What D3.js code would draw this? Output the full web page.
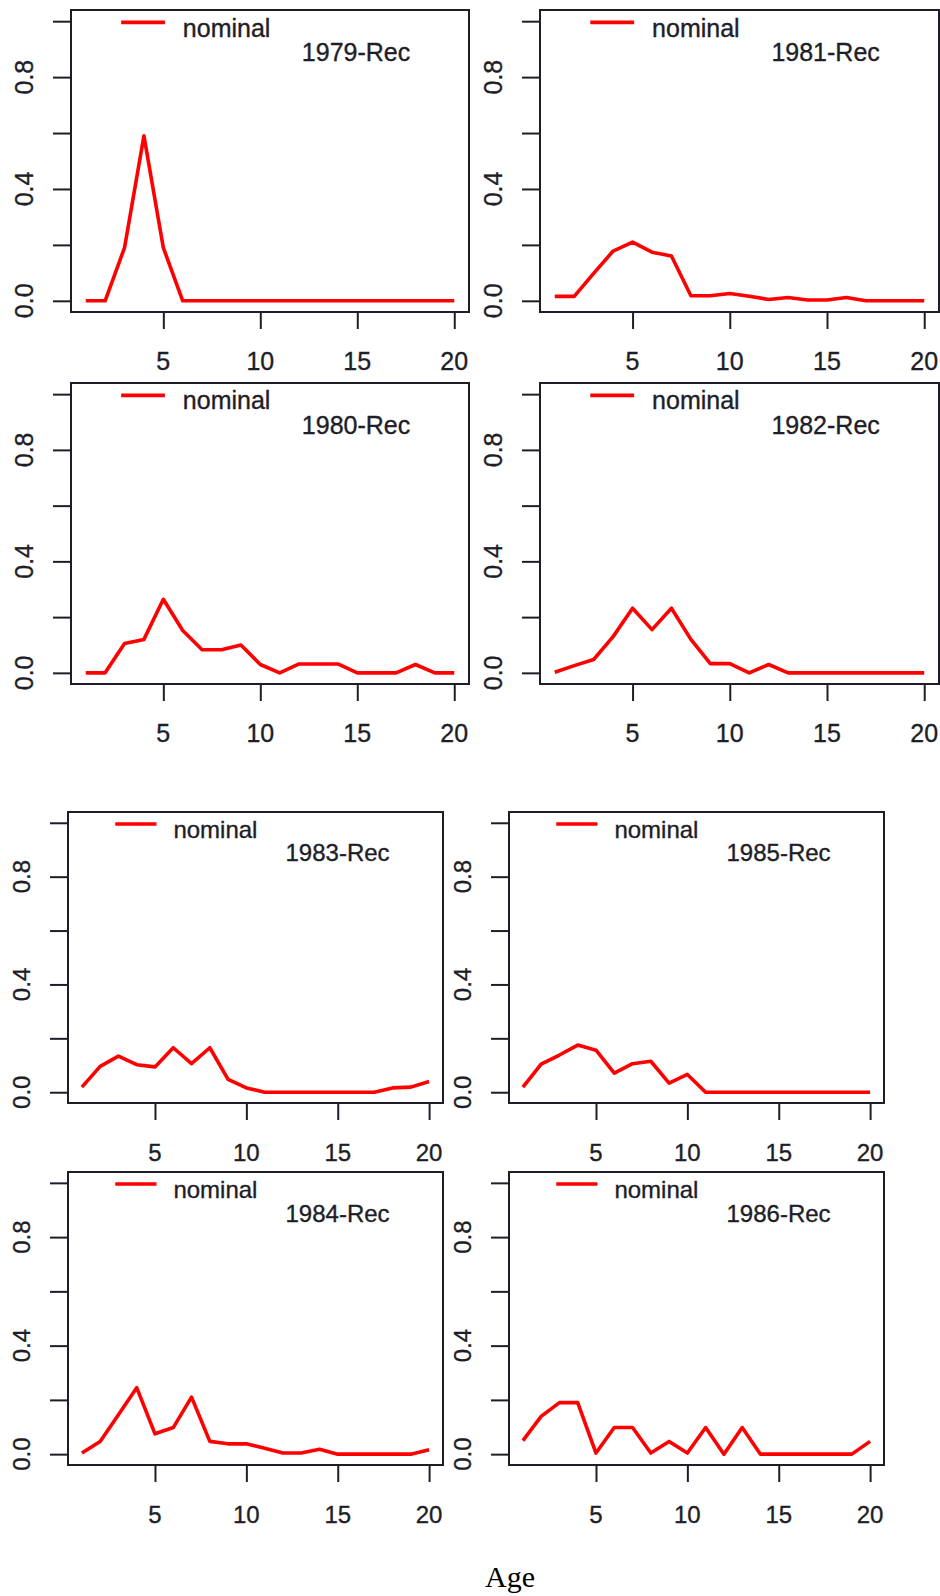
<!DOCTYPE html>
<html>
<head>
<meta charset="utf-8">
<script src="https://cdn.jsdelivr.net/npm/d3@7"></script>
<style>
  body { margin: 0; background: #fff; }
  svg { display: block; }
  .lab { stroke: #1e1e28; stroke-width: 0.35px; }
</style>
</head>
<body>
<svg id="base" width="940" height="1596"></svg>
<script>
// ages on the x axis
const ages = d3.range(1, 21);

// recruitment proportion at age, one series per year
const rec1979 = [0, 0, 0.19, 0.59, 0.19, 0, 0, 0, 0, 0, 0, 0, 0, 0, 0, 0, 0, 0, 0, 0];
const rec1981 = [0.016, 0.016, 0.098, 0.178, 0.21, 0.174, 0.16, 0.018, 0.018, 0.026, 0.016, 0.005, 0.012, 0.003, 0.003, 0.012, 0, 0, 0, 0];
const rec1980 = [0, 0, 0.105, 0.12, 0.264, 0.152, 0.083, 0.083, 0.1, 0.03, 0, 0.032, 0.032, 0.032, 0, 0, 0, 0.03, 0, 0];
const rec1982 = [0.002, 0.026, 0.048, 0.13, 0.232, 0.155, 0.232, 0.12, 0.033, 0.033, 0, 0.03, 0, 0, 0, 0, 0, 0, 0, 0];
const rec1983 = [0.019, 0.096, 0.134, 0.102, 0.094, 0.165, 0.106, 0.165, 0.048, 0.016, 0, 0, 0, 0, 0, 0, 0, 0.016, 0.019, 0.04];
const rec1985 = [0.019, 0.104, 0.138, 0.175, 0.156, 0.071, 0.106, 0.115, 0.034, 0.066, 0, 0, 0, 0, 0, 0, 0, 0, 0, 0];
const rec1984 = [0.004, 0.047, 0.145, 0.245, 0.075, 0.098, 0.21, 0.047, 0.038, 0.038, 0.022, 0.004, 0.004, 0.018, 0, 0, 0, 0, 0, 0.016];
const rec1986 = [0.05, 0.139, 0.19, 0.19, 0.004, 0.098, 0.098, 0.004, 0.047, 0.004, 0.098, 0, 0.098, 0, 0, 0, 0, 0, 0, 0.047];

const titles = ["1979-Rec", "1981-Rec", "1980-Rec", "1982-Rec", "1983-Rec", "1985-Rec", "1984-Rec", "1986-Rec"];
const series = [rec1979, rec1981, rec1980, rec1982, rec1983, rec1985, rec1984, rec1986];
const legendLabel = "nominal";
const xLabel = "Age";

const xTicks = [5, 10, 15, 20];
const yTicks = [0, 0.2, 0.4, 0.6, 0.8, 1.0];
const yLabels = ["0.0", "", "0.4", "", "0.8", ""];

// panel boxes (two stacked figures, the lower one slightly smaller)
const boxes = [
    { l: 71, r: 469, t: 10, b: 312, fs: 25 },
    { l: 540, r: 939, t: 10, b: 312, fs: 25 },
    { l: 71, r: 469, t: 383, b: 684, fs: 25 },
    { l: 540, r: 939, t: 383, b: 684, fs: 25 },
    { l: 68, r: 443, t: 812, b: 1103, fs: 24 },
    { l: 509, r: 884, t: 812, b: 1103, fs: 24 },
    { l: 68, r: 443, t: 1172, b: 1465, fs: 24 },
    { l: 509, r: 884, t: 1172, b: 1465, fs: 24 }
];

const base = d3.select("#base");
const font = "'Liberation Sans', Arial, sans-serif";
const ink = "#1e1e28";

boxes.forEach((bx, i) => {
    const w = bx.r - bx.l;
    const h = bx.b - bx.t;
    // R style 4% padding around the data range
    const x = d3.scaleLinear().domain([1 - 0.04 * 19, 20 + 0.04 * 19]).range([0, w]);
    const y = d3.scaleLinear().domain([-0.04, 1.04]).range([h, 0]);

    const g = base.append("g").attr("transform", `translate(${bx.l},${bx.t})`);

    // y axis ticks
    const yAxis = g.append("g")
        .attr("transform", "translate(-1,0)")
        .call(d3.axisLeft(y).tickValues(yTicks).tickSize(17).tickFormat(""));
    yAxis.select(".domain").remove();
    yAxis.selectAll("line").attr("stroke", ink).attr("stroke-width", 2);

    g.selectAll(".ylab")
        .data(yTicks)
        .enter()
        .append("text")
        .attr("class", "ylab lab")
        .attr("transform", (d) => `translate(-47,${y(d)}) rotate(-90)`)
        .attr("dy", "0.36em")
        .attr("text-anchor", "middle")
        .attr("font-family", font)
        .attr("font-size", bx.fs)
        .attr("fill", ink)
        .text((d, k) => yLabels[k]);

    // x axis ticks
    const xAxis = g.append("g")
        .attr("transform", `translate(0,${h + 1})`)
        .call(d3.axisBottom(x).tickValues(xTicks).tickSize(16).tickFormat(""));
    xAxis.select(".domain").remove();
    xAxis.selectAll("line").attr("stroke", ink).attr("stroke-width", 2);

    g.selectAll(".xlab")
        .data(xTicks)
        .enter()
        .append("text")
        .attr("class", "xlab lab")
        .attr("x", (d) => x(d))
        .attr("y", h + 49)
        .attr("dy", "0.36em")
        .attr("text-anchor", "middle")
        .attr("font-family", font)
        .attr("font-size", bx.fs)
        .attr("fill", ink)
        .text((d) => d);

    // the series
    const line = d3.line()
        .x((d, k) => x(ages[k]))
        .y((d) => y(d));

    g.append("path")
        .datum(series[i])
        .attr("d", line)
        .attr("fill", "none")
        .attr("stroke", "#ff0000")
        .attr("stroke-width", 3.6)
        .attr("stroke-linejoin", "round");

    // legend and title
    g.append("line")
        .attr("x1", 0.126 * w)
        .attr("x2", 0.236 * w)
        .attr("y1", 0.041 * h)
        .attr("y2", 0.041 * h)
        .attr("stroke", "#ff0000")
        .attr("stroke-width", 3.6);

    g.append("text")
        .attr("class", "lab")
        .attr("x", 0.281 * w)
        .attr("y", 0.088 * h)
        .attr("font-family", font)
        .attr("font-size", bx.fs)
        .attr("fill", ink)
        .text(legendLabel);

    g.append("text")
        .attr("class", "lab")
        .attr("x", 0.58 * w)
        .attr("y", 0.17 * h)
        .attr("font-family", font)
        .attr("font-size", bx.fs)
        .attr("fill", ink)
        .text(titles[i]);

    // frame
    g.append("rect")
        .attr("width", w)
        .attr("height", h)
        .attr("fill", "none")
        .attr("stroke", ink)
        .attr("stroke-width", 2);
});

base.append("text")
    .attr("x", 510)
    .attr("y", 1587)
    .attr("text-anchor", "middle")
    .attr("font-family", "'Liberation Serif', 'DejaVu Serif', serif")
    .attr("font-size", 30)
    .attr("fill", "#000")
    .text(xLabel);
</script>
</body>
</html>
